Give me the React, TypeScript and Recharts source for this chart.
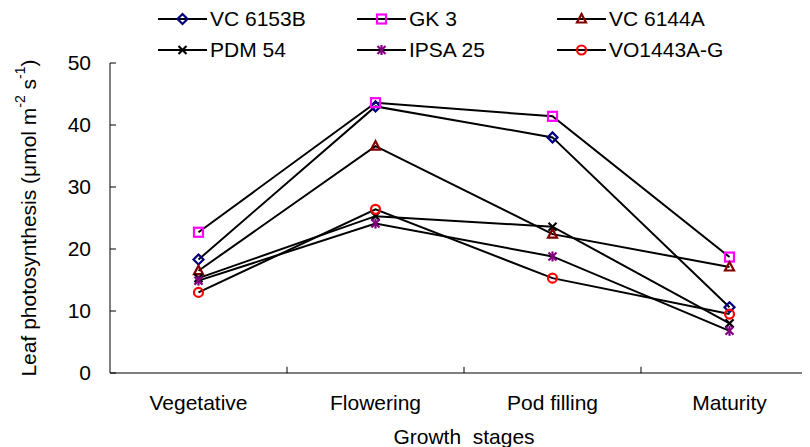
import React from 'react';
import { LineChart, Line, XAxis, YAxis, ReferenceLine, Label } from 'recharts';

const categories = ['Vegetative', 'Flowering', 'Pod filling', 'Maturity'];
const seriesNames = ['VC 6153B', 'GK 3', 'VC 6144A', 'PDM 54', 'IPSA 25', 'VO1443A-G'];
const vc6153b = [18.3, 43.0, 38.0, 10.6];
const gk3 = [22.7, 43.6, 41.4, 18.7];
const vc6144a = [16.5, 36.6, 22.4, 17.1];
const pdm54 = [15.3, 25.3, 23.6, 8.0];
const ipsa25 = [14.9, 24.1, 18.8, 6.8];
const vo1443ag = [13.0, 26.4, 15.3, 9.5];
const yTicks = [0, 10, 20, 30, 40, 50];
const boundaries = [1, 2, 3];

const seriesValues = [vc6153b, gk3, vc6144a, pdm54, ipsa25, vo1443ag];
const shapes = ['diamond', 'square', 'triangle', 'x', 'star', 'circle'];
const colors = ['#000080', '#FF00FF', '#800000', '#000000', '#800080', '#FF0000'];

const data = categories.map((c, i) => {
  const row: any = { x: i + 0.5, name: c };
  seriesValues.forEach((vals, k) => {
    row['s' + k] = vals[i];
  });
  return row;
});

const FONT = '"Liberation Sans", Arial, sans-serif';
const FS = 21;

function Marker({ shape, color, cx, cy }: { shape: string; color: string; cx: number; cy: number }) {
  const sw = 2.2;
  switch (shape) {
    case 'diamond':
      return (
        <polygon
          points={`${cx},${cy - 5} ${cx + 5},${cy} ${cx},${cy + 5} ${cx - 5},${cy}`}
          fill="none"
          stroke={color}
          strokeWidth={sw}
        />
      );
    case 'square':
      return <rect x={cx - 4.5} y={cy - 4.5} width={9} height={9} fill="none" stroke={color} strokeWidth={sw} />;
    case 'triangle':
      return (
        <polygon
          points={`${cx},${cy - 5} ${cx + 4.5},${cy + 3.5} ${cx - 4.5},${cy + 3.5}`}
          fill="none"
          stroke={color}
          strokeWidth={sw}
        />
      );
    case 'x':
      return (
        <g stroke={color} strokeWidth={sw}>
          <line x1={cx - 4} y1={cy - 4} x2={cx + 4} y2={cy + 4} />
          <line x1={cx - 4} y1={cy + 4} x2={cx + 4} y2={cy - 4} />
        </g>
      );
    case 'star':
      return (
        <g stroke={color} strokeWidth={sw}>
          <line x1={cx - 4} y1={cy - 4} x2={cx + 4} y2={cy + 4} />
          <line x1={cx - 4} y1={cy + 4} x2={cx + 4} y2={cy - 4} />
          <line x1={cx} y1={cy - 5} x2={cx} y2={cy + 5} />
        </g>
      );
    default:
      return <circle cx={cx} cy={cy} r={4.5} fill="none" stroke={color} strokeWidth={sw} />;
  }
}

const YLabel = (props: any) => {
  const vb = props.viewBox || { x: 0, y: 0, width: 0, height: 0 };
  const x = vb.x + 20;
  const y = vb.y + vb.height / 2;
  return (
    <text
      x={x}
      y={y}
      transform={`rotate(-90 ${x} ${y})`}
      textAnchor="middle"
      dominantBaseline="central"
      fontSize={FS}
      fontFamily={FONT}
      fill="#000"
    >
      Leaf photosynthesis (μmol m
      <tspan dy={-8} fontSize={14}>-2</tspan>
      <tspan dy={8}> s</tspan>
      <tspan dy={-8} fontSize={14}>-1</tspan>
      <tspan dy={8}>)</tspan>
    </text>
  );
};

const XLabel = (props: any) => {
  const vb = props.viewBox || { x: 0, y: 0, width: 0, height: 0 };
  return (
    <text
      x={vb.x + vb.width / 2}
      y={vb.y + 63}
      textAnchor="middle"
      dominantBaseline="central"
      fontSize={FS}
      fontFamily={FONT}
      fill="#000"
      style={{ whiteSpace: 'pre' }}
    >
      {'Growth  stages'}
    </text>
  );
};

const legendCols = [150, 349, 549];
const legendRows = [11, 42];

function LegendBlock() {
  return (
    <>
      {seriesNames.map((n, k) => {
        const col = k % 3;
        const row = Math.floor(k / 3);
        return (
          <div
            key={n}
            style={{
              position: 'absolute',
              left: legendCols[col],
              top: legendRows[row] - 12,
              height: 24,
              display: 'flex',
              alignItems: 'center',
              fontFamily: FONT,
              fontSize: FS,
              whiteSpace: 'nowrap',
              color: '#000',
            }}
          >
            <svg width={49} height={24} style={{ display: 'block' }}>
              <line x1={0} y1={12} x2={49} y2={12} stroke="#000" strokeWidth={2} />
              <Marker shape={shapes[k]} color={colors[k]} cx={24.5} cy={12} />
            </svg>
            <span style={{ marginLeft: 3 }}>{n}</span>
          </div>
        );
      })}
    </>
  );
}

export default function App() {
  return (
    <div style={{ position: 'relative', width: 802, height: 439, overflow: 'hidden' }}>
      <LineChart width={830} height={439} data={data} margin={{ top: 55, right: 20, bottom: 0, left: 0 }}>
        <XAxis
          dataKey="x"
          type="number"
          domain={[0, 4]}
          ticks={[0.5, 1.5, 2.5, 3.5]}
          tickFormatter={(v: number) => categories[Math.floor(v)]}
          tickLine={false}
          tickSize={0}
          tickMargin={22}
          height={74}
          axisLine={{ stroke: '#000', strokeWidth: 1 }}
          tick={{ fill: '#000', fontSize: FS, fontFamily: FONT }}
          interval={0}
        >
          <Label content={XLabel} />
        </XAxis>
        <YAxis
          type="number"
          domain={[0, 50]}
          ticks={yTicks}
          width={102}
          tickSize={-6}
          tickMargin={25}
          axisLine={{ stroke: '#000', strokeWidth: 1 }}
          tickLine={{ stroke: '#000', strokeWidth: 1 }}
          tick={{ fill: '#000', fontSize: FS, fontFamily: FONT }}
          interval={0}
        >
          <Label content={YLabel} />
        </YAxis>
        {boundaries.map((b) => (
          <ReferenceLine
            key={'b' + b}
            segment={[
              { x: b, y: 0 },
              { x: b, y: 1 },
            ]}
            stroke="#000"
            strokeWidth={1}
          />
        ))}
        {seriesNames.map((n, k) => (
          <Line
            key={n}
            dataKey={'s' + k}
            name={n}
            type="linear"
            stroke="#000"
            strokeWidth={2}
            isAnimationActive={false}
            dot={(p: any) => (
              <Marker key={n + '-' + p.index} shape={shapes[k]} color={colors[k]} cx={p.cx} cy={p.cy} />
            )}
          />
        ))}
      </LineChart>
      <LegendBlock />
    </div>
  );
}
